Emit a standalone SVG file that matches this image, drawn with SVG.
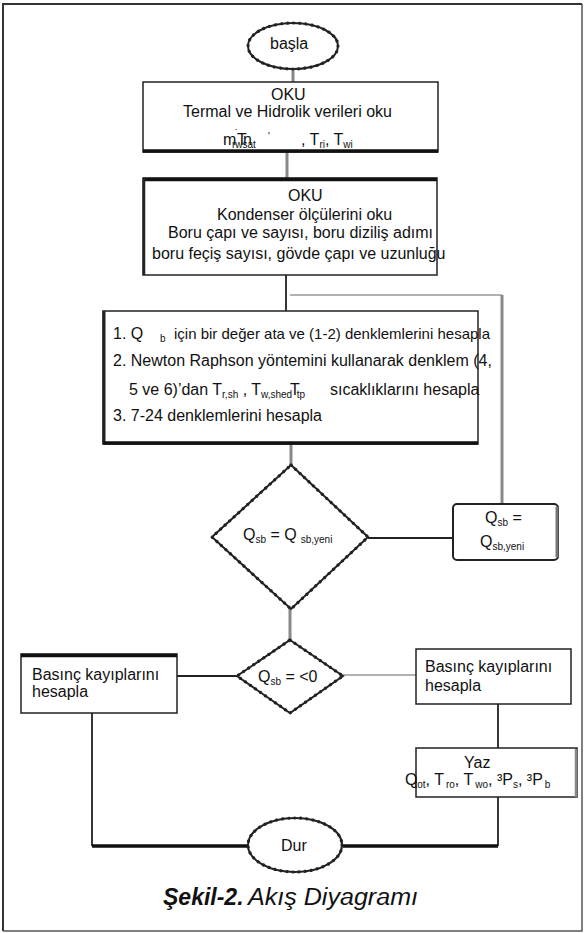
<svg xmlns="http://www.w3.org/2000/svg" width="586" height="933" viewBox="0 0 586 933">
<style>
text{font-family:"Liberation Sans",Arial,sans-serif;font-size:16px;fill:#111}
.sub{font-size:10px}
.s15{font-size:15px}
.box{fill:#fff;stroke:#222;stroke-width:1.5}
.thick{stroke:#111;stroke-width:3.5;fill:none}
.term{fill:#fff;stroke:#222;stroke-width:2}
.bead{fill:none;stroke:#222;stroke-width:3.2;stroke-dasharray:0.1 6;stroke-linecap:round}
.c{fill:none;stroke:#222;stroke-width:1.8}
.cg{fill:none;stroke:#888;stroke-width:3}
.cl{fill:none;stroke:#999;stroke-width:1.5}
.ck{fill:none;stroke:#111;stroke-width:3.5}
.cap{font-size:23px;font-style:italic}
</style>
<rect x="0" y="0" width="586" height="933" fill="#fff"/>
<g id="frame">
<path d="M3,931 V4 H582" fill="none" stroke="#333" stroke-width="2"/>
<path d="M582,4 V931 H3" fill="none" stroke="#555" stroke-width="1.5"/>
</g>
<g id="connectors">
<path class="cg" d="M293,69 V82"/>
<path class="cg" d="M287,152 V178"/>
<path class="c" d="M286,275 V311"/>
<path class="cl" d="M290,295 H502"/>
<path class="cg" d="M502,295 V504"/>
<path class="cg" d="M291,444 V465"/>
<path class="c" d="M368,538 H453"/>
<path class="cg" d="M290,609 V640"/>
<path class="c" d="M237,676 H177"/>
<path class="cl" d="M343,675 H416"/>
<path class="c" d="M498,704 V748"/>
<path class="c" d="M92,713 V846"/>
<path class="ck" d="M92,846 H248"/>
<path class="c" d="M498,797 V846"/>
<path class="ck" d="M498,846 H343"/>
</g>
<g id="start">
<ellipse class="term" cx="293" cy="46" rx="45" ry="23"/>
<ellipse class="bead" cx="293" cy="46" rx="45" ry="23"/>
<text x="270" y="49">başla</text>
</g>
<g id="read1">
<rect class="box" x="143" y="82" width="295" height="70"/>
<path class="thick" d="M143,151 H438"/>
<text x="271" y="100">OKU</text>
<text x="183" y="117">Termal ve Hidrolik verileri oku</text>
<text x="223" y="145">m</text>
<text x="235" y="137" class="sub">˙</text>
<text x="237" y="145">T</text>
<text x="243" y="145">n</text>
<text x="232" y="148" class="sub">rwsat</text>
<text x="268" y="140" class="sub">'</text>
<text x="301" y="145">, T<tspan class="sub" dy="3">ri</tspan><tspan dy="-3">, T</tspan><tspan class="sub" dy="3">wi</tspan></text>
</g>
<g id="read2">
<rect class="box" x="143" y="178" width="294" height="97"/>
<path class="thick" d="M143,179.5 H437" stroke-width="4"/>
<path d="M144,178 V275" stroke="#222" stroke-width="2.5"/>
<text x="288" y="201">OKU</text>
<text x="217" y="220">Kondenser ölçülerini oku</text>
<text x="168" y="238">Boru çapı ve sayısı, boru diziliş adımı</text>
<text x="152" y="259">boru feçiş sayısı, gövde çapı ve uzunluğu</text>
</g>
<g id="calc">
<rect class="box" x="103" y="311" width="375" height="133"/>
<path d="M104,311 V444" stroke="#222" stroke-width="3"/>
<path class="thick" d="M103,443 H478"/>
<text x="113" y="339">1. Q<tspan class="sub" x="160" dy="3">b</tspan></text>
<text x="174" y="339" class="s15">için bir değer ata ve (1-2) denklemlerini hesapla</text>
<text x="113" y="366">2. Newton Raphson yöntemini kullanarak denklem (4,</text>
<text x="129" y="395">5 ve 6)’dan T<tspan class="sub" dy="3">r,sh</tspan><tspan dy="-3"> , T</tspan><tspan class="sub" dy="3">w,shed</tspan></text>
<text x="290" y="395">T<tspan class="sub" dx="-3" dy="3">tp</tspan></text>
<text x="330" y="395">sıcaklıklarını hesapla</text>
<text x="113" y="421">3. 7-24 denklemlerini hesapla</text>
</g>
<g id="decision1">
<path class="term" d="M291,465 L368,537 L291,609 L212,537 Z"/>
<path class="bead" d="M291,465 L368,537 L291,609 L212,537 Z"/>
<text x="243" y="540">Q<tspan class="sub" dy="3">sb</tspan><tspan dy="-3"> = Q</tspan><tspan class="sub" dx="4" dy="3">sb,yeni</tspan></text>
</g>
<g id="update">
<rect x="453" y="504" width="105" height="56" rx="4" fill="#fff" stroke="#222" stroke-width="2"/>
<path d="M557,507 V557" stroke="#777" stroke-width="3"/>
<text x="485" y="523">Q<tspan class="sub" dy="3">sb</tspan><tspan dy="-3"> =</tspan></text>
<text x="480" y="547">Q<tspan class="sub" dy="3">sb,yeni</tspan></text>
</g>
<g id="decision2">
<path class="term" d="M290,640 L343,676 L290,713 L237,676 Z"/>
<path class="bead" d="M290,640 L343,676 L290,713 L237,676 Z"/>
<text x="258" y="682">Q<tspan class="sub" dy="3">sb</tspan><tspan dy="-3"> = &lt;0</tspan></text>
</g>
<g id="pressureLeft">
<rect class="box" x="21" y="654" width="156" height="59"/>
<path class="thick" d="M21,655.5 H177"/>
<text x="32" y="680">Basınç kayıplarını</text>
<text x="32" y="697">hesapla</text>
</g>
<g id="pressureRight">
<rect class="box" x="416" y="649" width="155" height="55"/>
<text x="425" y="672">Basınç kayıplarını</text>
<text x="425" y="691">hesapla</text>
</g>
<g id="write">
<rect class="box" x="416" y="748" width="161" height="49"/>
<path d="M576,749 V797" stroke="#888" stroke-width="2.5"/>
<text x="464" y="768">Yaz</text>
<text x="405" y="785">Q<tspan class="sub" dx="-3" dy="3">tot</tspan><tspan dy="-3">, T</tspan><tspan class="sub" dx="2" dy="3">ro</tspan><tspan dy="-3">, T</tspan><tspan class="sub" dx="2" dy="3">wo</tspan><tspan dy="-3">, ³P</tspan><tspan class="sub" dy="3">s</tspan><tspan dy="-3">, ³P</tspan><tspan class="sub" dx="2" dy="3">b</tspan></text>
</g>
<g id="stop">
<ellipse class="term" cx="295" cy="845" rx="47" ry="27"/>
<ellipse class="bead" cx="295" cy="845" rx="47" ry="27"/>
<text x="281" y="851">Dur</text>
</g>
<g id="caption">
<text class="cap" x="163" y="905" font-weight="bold">Şekil-2.</text>
<text class="cap" x="248" y="905" textLength="170" lengthAdjust="spacingAndGlyphs">Akış Diyagramı</text>
</g>
</svg>
